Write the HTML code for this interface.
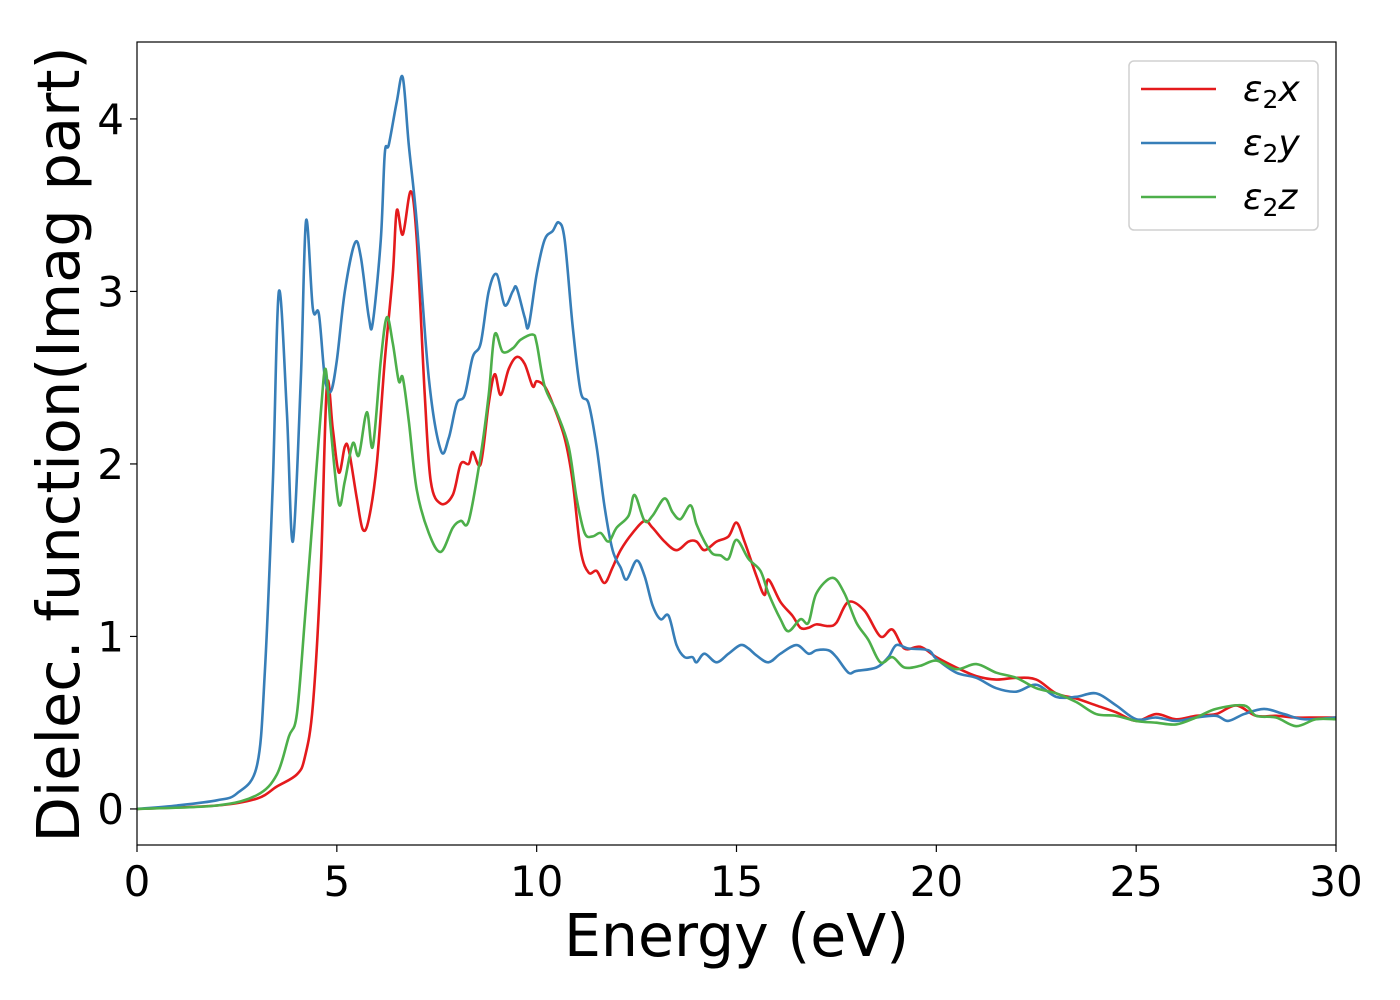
<!DOCTYPE html>
<html><head><meta charset="utf-8">
<style>
html,body{margin:0;padding:0;background:#fff;}
svg{display:block;font-family:"DejaVu Sans","Liberation Sans",sans-serif;}
</style></head>
<body>
<svg id="chart" width="1400" height="1000" viewBox="0 0 1400 1000"></svg>
<script>
const xTicks=[0,5,10,15,20,25,30];
const yTicks=[0,1,2,3,4];
const seriesNames=["ε2x","ε2y","ε2z"];
const energyX=[0,2,3,3.5,4.0,4.2,4.4,4.6,4.75,4.9,5.05,5.2,5.3,5.5,5.65,5.8,6.0,6.2,6.4,6.5,6.65,6.85,7.0,7.2,7.35,7.6,7.9,8.1,8.3,8.4,8.6,8.8,8.95,9.1,9.3,9.5,9.7,9.9,10.0,10.2,10.4,10.7,10.9,11.1,11.3,11.5,11.7,11.9,12.1,12.4,12.7,12.9,13.2,13.5,13.8,14.0,14.2,14.5,14.8,15.0,15.2,15.5,15.7,15.8,16.1,16.4,16.6,16.8,17.0,17.3,17.5,17.8,18.2,18.6,18.9,19.2,19.6,20,20.5,21,21.5,22,22.5,23,23.5,24,24.5,25,25.5,26,26.5,27,27.5,28,28.5,29,29.5,30];
const valuesX=[0,0.02,0.06,0.13,0.2,0.3,0.6,1.4,2.45,2.2,1.95,2.1,2.08,1.8,1.62,1.68,2.0,2.6,3.1,3.47,3.33,3.58,3.3,2.4,1.9,1.77,1.82,2.0,2.0,2.07,2.0,2.35,2.52,2.4,2.55,2.62,2.58,2.45,2.48,2.45,2.35,2.15,1.9,1.5,1.37,1.38,1.31,1.4,1.5,1.6,1.67,1.63,1.55,1.5,1.55,1.55,1.5,1.55,1.58,1.66,1.55,1.35,1.24,1.33,1.2,1.12,1.05,1.05,1.07,1.06,1.08,1.2,1.15,1.0,1.04,0.93,0.94,0.88,0.82,0.77,0.75,0.76,0.75,0.67,0.64,0.6,0.56,0.51,0.55,0.52,0.54,0.55,0.6,0.54,0.54,0.53,0.53,0.53];
const energyY=[0,1,2,2.5,3,3.2,3.4,3.55,3.75,3.9,4.1,4.23,4.4,4.55,4.7,4.85,5.0,5.2,5.45,5.6,5.8,5.9,6.1,6.2,6.3,6.5,6.65,6.8,7.0,7.3,7.6,7.8,8.0,8.2,8.4,8.6,8.8,9.0,9.2,9.4,9.5,9.7,9.8,10.0,10.2,10.4,10.55,10.7,10.9,11.1,11.3,11.5,11.7,11.9,12.1,12.25,12.5,12.7,12.9,13.1,13.3,13.5,13.7,13.9,14.0,14.2,14.5,14.8,15.1,15.3,15.5,15.8,16.1,16.5,16.8,17.0,17.3,17.5,17.8,18.0,18.5,18.8,19.0,19.3,19.8,20,20.5,21,21.5,22,22.5,23,23.5,24,24.5,25,25.5,26,26.5,27,27.3,27.7,28.2,28.7,29.2,30];
const valuesY=[0,0.02,0.05,0.09,0.25,0.8,1.9,3.0,2.3,1.55,2.5,3.41,2.9,2.87,2.5,2.42,2.6,3.0,3.28,3.2,2.85,2.82,3.3,3.8,3.85,4.1,4.24,3.85,3.4,2.5,2.08,2.15,2.35,2.4,2.62,2.7,3.0,3.1,2.92,3.0,3.02,2.85,2.8,3.1,3.3,3.35,3.4,3.3,2.8,2.42,2.35,2.1,1.75,1.5,1.4,1.33,1.44,1.35,1.18,1.1,1.12,0.95,0.88,0.88,0.85,0.9,0.85,0.9,0.95,0.93,0.89,0.85,0.9,0.95,0.9,0.92,0.92,0.88,0.79,0.8,0.82,0.88,0.95,0.93,0.92,0.87,0.79,0.76,0.7,0.68,0.72,0.65,0.65,0.67,0.6,0.52,0.53,0.51,0.53,0.54,0.51,0.55,0.58,0.55,0.52,0.53];
const energyZ=[0,2,3,3.5,3.8,4.0,4.2,4.4,4.6,4.72,4.85,5.05,5.2,5.4,5.55,5.75,5.9,6.1,6.25,6.4,6.55,6.65,6.8,7.0,7.3,7.6,7.9,8.1,8.3,8.6,8.8,8.95,9.15,9.4,9.6,9.9,10.0,10.2,10.5,10.8,11.0,11.2,11.4,11.6,11.8,12.0,12.3,12.45,12.7,12.9,13.2,13.4,13.6,13.85,14.0,14.2,14.4,14.6,14.8,15.0,15.3,15.6,15.8,16.1,16.3,16.6,16.8,17.0,17.4,17.7,18.0,18.3,18.6,18.9,19.2,19.6,20,20.5,21,21.5,22,22.5,23,23.5,24,24.5,25,25.5,26,26.5,27,27.7,28,28.5,29,29.5,30];
const valuesZ=[0,0.02,0.08,0.2,0.42,0.55,1.1,1.7,2.3,2.55,2.2,1.77,1.9,2.12,2.05,2.3,2.1,2.6,2.85,2.7,2.48,2.5,2.25,1.85,1.6,1.49,1.63,1.67,1.67,2.05,2.4,2.75,2.65,2.67,2.72,2.75,2.7,2.45,2.3,2.1,1.8,1.6,1.58,1.6,1.55,1.63,1.7,1.82,1.67,1.7,1.8,1.72,1.68,1.76,1.65,1.55,1.48,1.47,1.45,1.56,1.45,1.38,1.25,1.1,1.03,1.1,1.08,1.25,1.34,1.25,1.08,0.98,0.85,0.88,0.82,0.83,0.86,0.81,0.84,0.79,0.76,0.7,0.67,0.62,0.55,0.54,0.51,0.5,0.49,0.53,0.58,0.6,0.54,0.53,0.48,0.52,0.52];

const NS="http://www.w3.org/2000/svg";
const svg=document.getElementById('chart');
const L=137,R=1336,T=42,B=845;
const xMin=0,xMax=30,yMin=-0.209,yMax=4.446;
const sx=v=>L+(v-xMin)/(xMax-xMin)*(R-L);
const sy=v=>B-(v-yMin)/(yMax-yMin)*(B-T);
function mk(tag,attrs){const e=document.createElementNS(NS,tag);for(const k in attrs)e.setAttribute(k,attrs[k]);svg.appendChild(e);return e;}

const clip=mk('clipPath',{id:'pc'});
const cr=document.createElementNS(NS,'rect');
cr.setAttribute('x',L);cr.setAttribute('y',T);cr.setAttribute('width',R-L);cr.setAttribute('height',B-T);
clip.appendChild(cr);

function pathFor(xs,ys){
  const p=xs.map((x,i)=>[sx(x),sy(ys[i])]);
  let d=`M${p[0][0]},${p[0][1]}`;
  for(let i=0;i<p.length-1;i++){
    const p0=p[Math.max(0,i-1)],p1=p[i],p2=p[i+1],p3=p[Math.min(p.length-1,i+2)];
    const c1x=p1[0]+(p2[0]-p0[0])/6,c1y=p1[1]+(p2[1]-p0[1])/6;
    const c2x=p2[0]-(p3[0]-p1[0])/6,c2y=p2[1]-(p3[1]-p1[1])/6;
    d+=`C${c1x},${c1y} ${c2x},${c2y} ${p2[0]},${p2[1]}`;
  }
  return d;
}
const series=[[energyX,valuesX,'#e41a1c','series-e2x'],[energyY,valuesY,'#377eb8','series-e2y'],[energyZ,valuesZ,'#4daf4a','series-e2z']];
series.forEach(s=>{
  const e=mk('path',{d:pathFor(s[0],s[1]),fill:'none',stroke:s[2],'stroke-width':2.6,'clip-path':'url(#pc)','stroke-linejoin':'round'});
  
  
});

const frame=mk('rect',{x:L,y:T,width:R-L,height:B-T,fill:'none',stroke:'#000','stroke-width':1.2});



xTicks.forEach(v=>{
  mk('line',{x1:sx(v),x2:sx(v),y1:B,y2:B+7,stroke:'#000','stroke-width':1.2});
  const t=mk('text',{x:sx(v),y:B+51,'text-anchor':'middle','font-size':42,fill:'#000'});
  t.textContent=v;
  
  
});
yTicks.forEach(v=>{
  mk('line',{x1:L-7,x2:L,y1:sy(v),y2:sy(v),stroke:'#000','stroke-width':1.2});
  const t=mk('text',{x:L-13,y:sy(v)+15,'text-anchor':'end','font-size':42,fill:'#000'});
  t.textContent=v;
  
  
});
const xl=mk('text',{x:(L+R)/2,y:956,'text-anchor':'middle','font-size':58.5,fill:'#000'});
xl.textContent='Energy (eV)';


const yl=mk('text',{x:0,y:0,'text-anchor':'middle','font-size':59,fill:'#000',transform:`translate(79,${(T+B)/2+1}) rotate(-90)`});
yl.textContent='Dielec. function(Imag part)';



const lg=mk('rect',{x:1129,y:61,width:189,height:169,rx:5,fill:'#fff',stroke:'#d0d0d0','stroke-width':1.5});


series.forEach((s,i)=>{
  const y=89+i*54;
  const ln=mk('line',{x1:1141,x2:1216,y1:y,y2:y,stroke:s[2],'stroke-width':2.6});
  
  
  const t=mk('text',{x:1243,y:y+12,'font-size':36,fill:'#000','font-style':'italic'});
  const name=seriesNames[i];
  t.appendChild(document.createTextNode(name[0]));
  const sub=document.createElementNS(NS,'tspan');
  sub.setAttribute('font-size',25);sub.setAttribute('font-style','normal');sub.setAttribute('dy',7);
  sub.textContent=name[1];t.appendChild(sub);
  const v=document.createElementNS(NS,'tspan');v.setAttribute('dy',-7);v.textContent=name.slice(2);t.appendChild(v);
  
  
});
</script>
</body></html>
